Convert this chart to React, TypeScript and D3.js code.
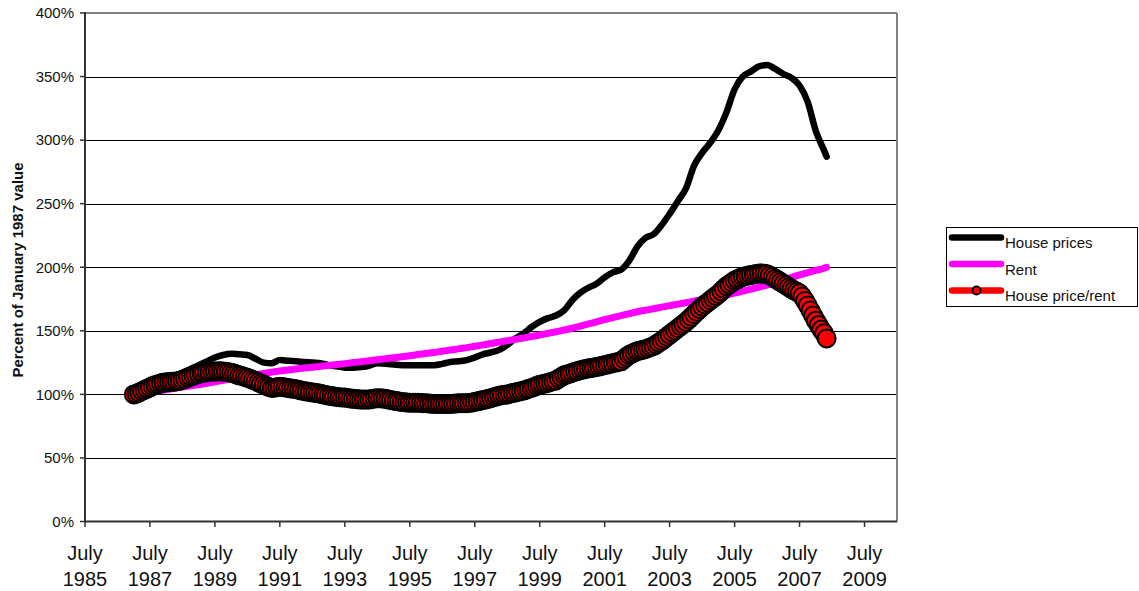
import React from "react";
import * as d3 from "d3";

// ---- Data ----
// House prices & rent: quarterly samples (Jan, Apr, Jul, Oct) from Jan 1987, final point May 2008
const seriesMonthOffsets: number[] = [...d3.range(0, 256, 3), 256];

const housePrices: number[] = [
  100, 102, 105, 108,
  110, 113, 117, 120,
  123, 126, 129, 131,
  132, 131.5, 131, 128,
  125, 124.5, 127, 126.5,
  126, 125.5, 125, 124.5,
  123, 122, 121, 121,
  121.5, 122.5, 124.5, 124,
  123.5, 123, 123, 123,
  123, 123, 124, 125.5,
  126, 127, 129, 131.5,
  133, 135, 139, 144,
  148, 153, 157, 160,
  162, 166, 174, 180,
  184, 187, 192, 196,
  198, 205, 216, 223,
  226, 233, 242, 252,
  262, 280, 290, 298,
  308, 322, 340, 350,
  354, 358, 359, 356,
  352, 349, 343, 330,
  307, 292, 287,
];

const rent: number[] = [
  100, 100.8, 101.7, 102.7,
  103.7, 104.7, 105.7, 106.7,
  107.7, 108.7, 109.8, 111,
  112.2, 113.3, 114.4, 115.5,
  116.5, 117.5, 118.4, 119.2,
  119.9, 120.7, 121.4, 122.1,
  122.8, 123.5, 124.2, 125,
  125.7, 126.5, 127.3, 128,
  128.8, 129.6, 130.4, 131.3,
  132.1, 133, 133.9, 134.9,
  135.8, 136.8, 137.8, 138.9,
  140, 141.1, 142.2, 143.3,
  144.4, 145.5, 146.7, 148,
  149.3, 150.6, 152, 153.7,
  155.4, 157.1, 158.8, 160.4,
  161.9, 163.5, 165, 166.2,
  167.4, 168.6, 169.8, 171,
  172.1, 173.3, 174.4, 175.7,
  177, 178.3, 179.6, 181.2,
  182.8, 184.4, 186, 188,
  190, 192, 194, 195.8,
  197.5, 199.2, 200,
];

// House price / rent: monthly from Jan 1987 to May 2008
const priceRentRatio: number[] = [
  100, 100.5, 101.5, 102.5, 103.5, 104.5, 105.5, 106.5, 107.3, 108, 108.7, 109.2,
  109.5, 109.7, 109.9, 110, 110.3, 110.8, 111.5, 112.3, 113.2, 114, 114.8, 115.4,
  116, 116.6, 117.1, 117.5, 117.8, 118, 118, 118.1, 118.1, 118, 117.7, 117.4,
  117, 116.4, 115.7, 115, 114.4, 113.7, 113, 112.2, 111.3, 110.5, 109.5, 108.5,
  107.5, 106.6, 105.7, 105, 105.3, 105.7, 106, 105.8, 105.4, 105, 104.7, 104.4,
  104, 103.5, 103, 102.5, 102.2, 101.8, 101.5, 101.2, 100.8, 100.5, 100, 99.5,
  99, 98.7, 98.3, 98, 97.8, 97.6, 97.5, 97.2, 96.8, 96.5, 96.3, 96.1,
  96, 95.9, 95.9, 96, 96.3, 96.7, 97, 96.9, 96.7, 96.5, 96, 95.5,
  95, 94.7, 94.3, 94, 93.8, 93.6, 93.5, 93.5, 93.5, 93.5, 93.3, 93.1,
  93, 92.8, 92.6, 92.5, 92.5, 92.5, 92.5, 92.5, 92.5, 92.5, 92.7, 92.9,
  93, 93, 93, 93, 93.2, 93.6, 94, 94.5, 95, 95.5, 96, 96.5,
  97, 97.7, 98.4, 99, 99.3, 99.7, 100, 100.5, 101, 101.5, 102, 102.5,
  103, 103.7, 104.4, 105, 105.8, 106.7, 107.5, 108, 108.5, 109, 109.7, 110.3,
  111, 112.4, 113.7, 115, 115.7, 116.3, 117, 117.7, 118.3, 119, 119.5, 120,
  120.5, 120.8, 121.2, 121.5, 122, 122.5, 123, 123.5, 124, 124.5, 125, 125.5,
  126, 127.7, 129.4, 131, 132, 133, 134, 134.5, 135, 135.5, 136.3, 137.1,
  138, 139.3, 140.7, 142, 143.7, 145.3, 147, 148.7, 150.3, 152, 153.7, 155.3,
  157, 159, 161, 163, 165, 167, 169, 170.7, 172.3, 174, 175.7, 177.3,
  179, 181, 183, 185, 186.5, 188, 189.5, 190.5, 191.5, 192.5, 193, 193.5,
  194, 194.3, 194.7, 195, 195, 194.8, 194.5, 193.5, 192.3, 191, 189.7, 188.3,
  187, 185.7, 184.3, 183, 181.8, 180.7, 179.5, 177, 173.5, 170, 166, 162,
  158, 154.5, 151, 148, 144,
];

const yTicks: number[] = [0, 50, 100, 150, 200, 250, 300, 350, 400];
const xTickYears: number[] = [1985, 1987, 1989, 1991, 1993, 1995, 1997, 1999, 2001, 2003, 2005, 2007, 2009];
const legendLabels: string[] = ["House prices", "Rent", "House price/rent"];
const yAxisTitle = "Percent of January 1987 value";

// ---- Layout ----
const W = 1139;
const H = 591;
const left = 85;
const right = 897;
const top = 13;
const bottom = 521.5;

const startDate = new Date(1987, 0, 1);

export default function App() {
  const x = d3
    .scaleTime()
    .domain([new Date(1985, 6, 1), new Date(2010, 6, 1)])
    .range([left, right]);
  const y = d3.scaleLinear().domain([0, 400]).range([bottom, top]);

  const quarterPts = seriesMonthOffsets.map((m) => d3.timeMonth.offset(startDate, m));
  const houseData = quarterPts.map((d, i) => ({ d, v: housePrices[i] }));
  const rentData = quarterPts.map((d, i) => ({ d, v: rent[i] }));
  const ratioData = priceRentRatio.map((v, i) => ({ d: d3.timeMonth.offset(startDate, i), v }));

  const line = d3
    .line<{ d: Date; v: number }>()
    .x((p) => x(p.d))
    .y((p) => y(p.v))
    .curve(d3.curveMonotoneX);

  const legendX = 946.5;
  const legendY = 227.5;
  const rowY = [237.5, 264, 290.5];
  const legendColors = ["#000000", "#FF00FF", "#FF0000"];

  return (
    <svg
      width={W}
      height={H}
      style={{ position: "absolute", left: 0, top: 0, background: "#fff" }}
      fontFamily="'Liberation Sans', Arial, sans-serif"
    >
      <rect x={0} y={0} width={W} height={H} fill="#fff" />
      {/* grid lines */}
      {yTicks
        .filter((t) => t > 0 && t < 400)
        .map((t) => (
          <line key={t} x1={left} x2={right} y1={Math.round(y(t)) + 0.5} y2={Math.round(y(t)) + 0.5} stroke="#000" strokeWidth={1} />
        ))}
      {/* plot border top/right */}
      <line x1={left} x2={right} y1={y(400)} y2={y(400)} stroke="#808080" strokeWidth={2} />
      <line x1={right} x2={right} y1={top} y2={bottom} stroke="#808080" strokeWidth={2} />
      {/* axes */}
      <line x1={left} x2={left} y1={top - 1} y2={bottom + 1} stroke="#333" strokeWidth={2} />
      <line x1={left} x2={right} y1={bottom} y2={bottom} stroke="#333" strokeWidth={2} />
      {/* y ticks */}
      {yTicks.map((t) => (
        <g key={t}>
          <line x1={left - 5} x2={left} y1={y(t)} y2={y(t)} stroke="#333" strokeWidth={1.5} />
          <text x={74} y={y(t) + 5.3} textAnchor="end" fontSize={15} fill="#111">
            {t}%
          </text>
        </g>
      ))}
      {/* x ticks */}
      {xTickYears.map((yr) => {
        const xp = x(new Date(yr, 6, 1));
        return (
          <g key={yr}>
            <line x1={xp} x2={xp} y1={bottom} y2={bottom + 5.5} stroke="#333" strokeWidth={1.5} />
            <text x={xp} y={560} textAnchor="middle" fontSize={20} fill="#111">
              July
            </text>
            <text x={xp} y={585.5} textAnchor="middle" fontSize={20} fill="#111">
              {yr}
            </text>
          </g>
        );
      })}
      {/* y axis title */}
      <text
        transform={`translate(22.5, 270) rotate(-90)`}
        textAnchor="middle"
        fontSize={15}
        fontWeight="bold"
        fill="#111"
      >
        {yAxisTitle}
      </text>
      {/* series */}
      <path d={line(houseData) || ""} fill="none" stroke="#000" strokeWidth={6.5} strokeLinejoin="round" strokeLinecap="round" />
      <path d={line(rentData) || ""} fill="none" stroke="#FF00FF" strokeWidth={7} strokeLinejoin="round" strokeLinecap="round" />
      <path d={line(ratioData) || ""} fill="none" stroke="#FF0000" strokeWidth={6} strokeLinejoin="round" strokeLinecap="round" />
      {ratioData.map((p, i) => (
        <circle key={i} cx={x(p.d)} cy={y(p.v)} r={9} fill="#FF0000" stroke="#000" strokeWidth={2} />
      ))}
      {/* legend */}
      <rect x={legendX} y={legendY} width={191} height={79} fill="#fff" stroke="#000" strokeWidth={1} />
      {legendLabels.map((lab, i) => (
        <g key={lab}>
          <line x1={952} x2={1001} y1={rowY[i]} y2={rowY[i]} stroke={legendColors[i]} strokeWidth={6.5} strokeLinecap="round" />
          {i === 2 && <circle cx={976.5} cy={rowY[i]} r={4} fill="#FF0000" stroke="#000" strokeWidth={2} />}
          <text x={1005} y={rowY[i] + 10.5} fontSize={15} fill="#111">
            {lab}
          </text>
        </g>
      ))}
    </svg>
  );
}
